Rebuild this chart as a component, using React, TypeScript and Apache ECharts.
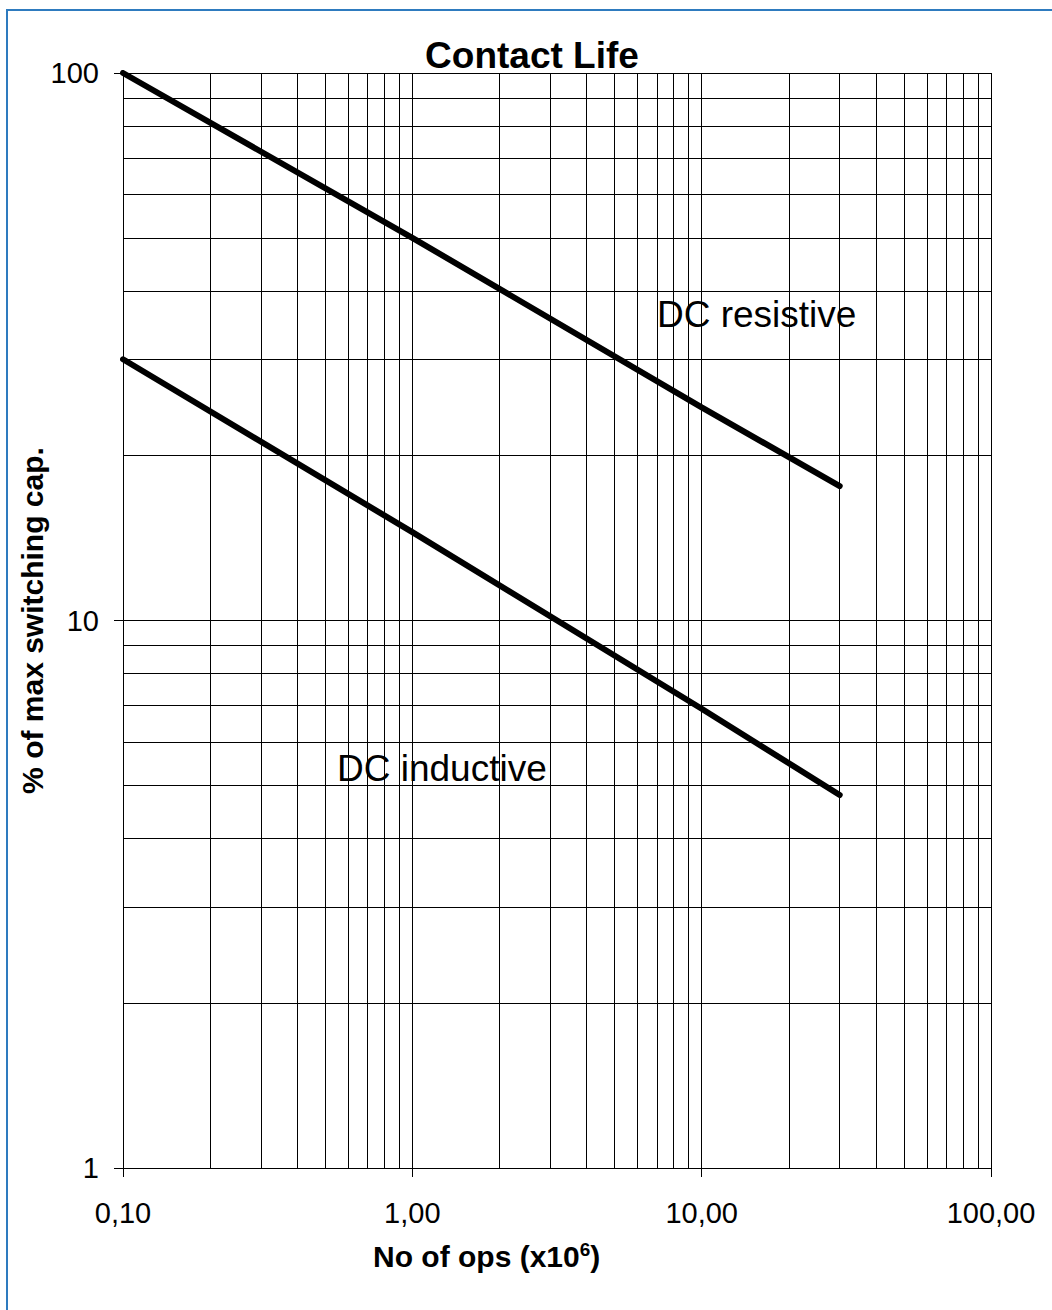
import React, { useEffect, useRef } from "react";
import * as echarts from "echarts";

const titleText = "Contact Life";
const xAxisTitle = "No of ops (x10";
const xAxisSup = "6";
const yAxisTitle = "% of max switching cap.";

const opsX = [0.1, 1, 10, 30];
const resistiveY = [100, 50, 24.5, 17.6];
const inductiveY = [30, 14.5, 6.9, 4.8];

const resistiveLabel = "DC resistive";
const inductiveLabel = "DC inductive";

const minorGridX = [0.2, 0.3, 0.4, 0.5, 0.6, 0.7, 0.8, 0.9, 2, 3, 4, 5, 6, 7, 8, 9, 20, 30, 40, 50, 60, 70, 80, 90];
const minorGridY = [2, 3, 4, 5, 6, 7, 8, 9, 20, 30, 40, 50, 60, 70, 80, 90];

const FONT = "Liberation Sans, Arial, sans-serif";

export default function App() {
  const ref = useRef<HTMLDivElement>(null);
  useEffect(() => {
    if (!ref.current) return;
    const chart = echarts.init(ref.current, null, { renderer: "svg" });
    const pair = (xs: number[], ys: number[]) => xs.map((x, i) => [x, ys[i]]);
    const gridMarks = [
      ...minorGridX.map((v) => ({ xAxis: v })),
      ...minorGridY.map((v) => ({ yAxis: v })),
    ];
    chart.setOption({
      animation: false,
      backgroundColor: "#ffffff",
      textStyle: { fontFamily: FONT },
      title: {
        text: titleText,
        left: 527,
        top: 32,
        textAlign: "center",
        textStyle: { fontFamily: FONT, fontWeight: "bold", fontSize: 37, color: "#000" },
      },
      grid: { left: 123, top: 73, right: 61, bottom: 142, containLabel: false },
      xAxis: {
        type: "log",
        logBase: 10,
        min: 0.1,
        max: 100,
        axisLine: { show: true, lineStyle: { color: "#000", width: 1 } },
        axisTick: { show: true, length: 9, lineStyle: { color: "#000" } },
        axisLabel: {
          margin: 30,
          fontFamily: FONT,
          fontSize: 29,
          color: "#000",
          formatter: (v: number) => v.toFixed(2).replace(".", ","),
        },
        splitLine: { show: true, lineStyle: { color: "#000", width: 1 } },
        minorTick: { show: false },
      },
      yAxis: {
        type: "log",
        logBase: 10,
        min: 1,
        max: 100,
        name: yAxisTitle,
        nameLocation: "middle",
        nameGap: 76,
        nameMoveOverlap: false,
        nameTextStyle: { fontFamily: FONT, fontWeight: "bold", fontSize: 30, color: "#000" },
        axisLine: { show: true, lineStyle: { color: "#000", width: 1 } },
        axisTick: { show: true, length: 9, lineStyle: { color: "#000" } },
        axisLabel: {
          margin: 24,
          fontFamily: FONT,
          fontSize: 29,
          color: "#000",
          formatter: (v: number) => String(Math.round(v)),
        },
        splitLine: { show: true, lineStyle: { color: "#000", width: 1 } },
      },
      series: [
        {
          type: "line",
          data: [],
          silent: true,
          markLine: {
            silent: true,
            symbol: "none",
            label: { show: false },
            lineStyle: { color: "#000", width: 1, type: "solid" },
            data: gridMarks,
          },
        },
        {
          name: resistiveLabel,
          type: "line",
          data: pair(opsX, resistiveY),
          showSymbol: false,
          lineStyle: { color: "#000", width: 6, cap: "round" },
          z: 5,
        },
        {
          name: inductiveLabel,
          type: "line",
          data: pair(opsX, inductiveY),
          showSymbol: false,
          lineStyle: { color: "#000", width: 6, cap: "round" },
          z: 5,
        },
      ],
      graphic: [
        {
          type: "rect",
          shape: { x: 7, y: 10, width: 1200, height: 1400 },
          style: { fill: "none", stroke: "#2e7bbf", lineWidth: 2 },
          silent: true,
          z: 100,
        },
        {
          type: "text",
          x: 373,
          y: 1256,
          style: {
            text: `{a|${xAxisTitle}}{s|${xAxisSup}}{a|)}`,
            rich: {
              a: { fontFamily: FONT, fontWeight: "bold", fontSize: 30, fill: "#000", color: "#000" },
              s: { fontFamily: FONT, fontWeight: "bold", fontSize: 19, fill: "#000", color: "#000", verticalAlign: "top", padding: [0, 0, 14, 0] },
            },
            textAlign: "left",
            textVerticalAlign: "middle",
          },
          z: 10,
        },
        {
          type: "text",
          x: 657,
          y: 314,
          style: {
            text: resistiveLabel,
            font: `37px ${FONT}`,
            fill: "#000",
            textAlign: "left",
            textVerticalAlign: "middle",
          },
          z: 10,
        },
        {
          type: "text",
          x: 337,
          y: 768,
          style: {
            text: inductiveLabel,
            font: `37px ${FONT}`,
            fill: "#000",
            textAlign: "left",
            textVerticalAlign: "middle",
          },
          z: 10,
        },
      ],
    });
    return () => chart.dispose();
  }, []);
  return (
    <div
      ref={ref}
      style={{ position: "absolute", left: 0, top: 0, width: 1052, height: 1310 }}
    />
  );
}
